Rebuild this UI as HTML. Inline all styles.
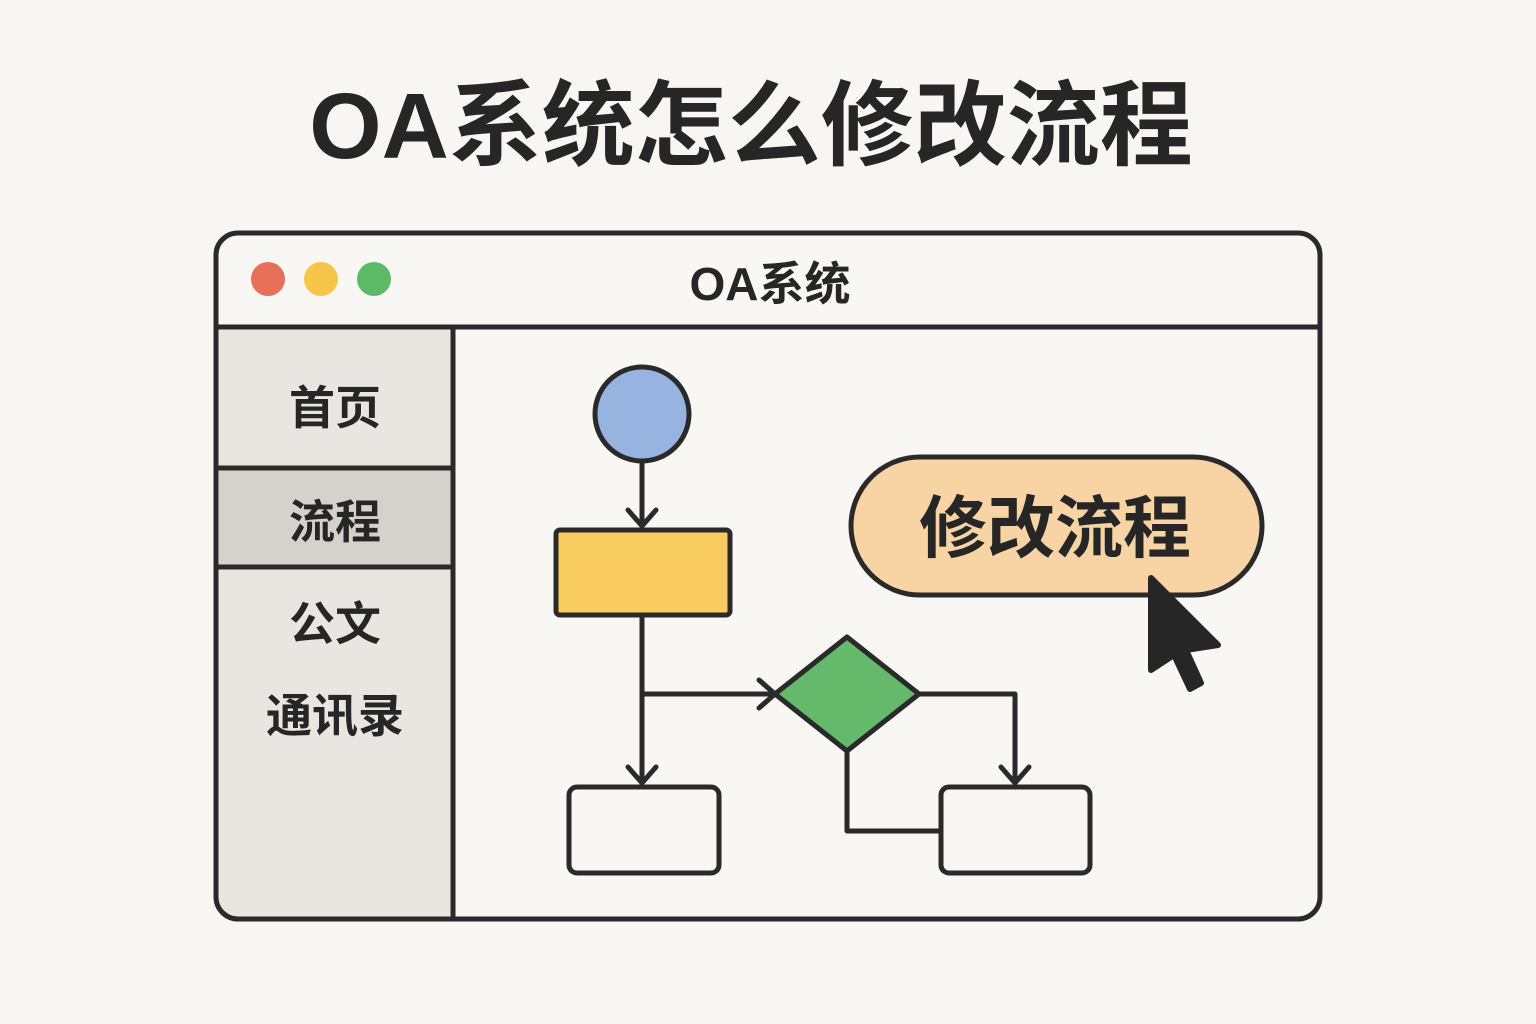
<!DOCTYPE html>
<html><head><meta charset="utf-8"><style>
html,body{margin:0;padding:0;background:#f7f6f2;}
svg{display:block;}
text{font-family:"Liberation Sans","Noto Sans CJK SC",sans-serif;font-weight:bold;fill:#262626;}
</style></head><body>
<svg width="1536" height="1024" viewBox="0 0 1536 1024" xmlns="http://www.w3.org/2000/svg">
<rect width="1536" height="1024" fill="#f7f6f2"/>
<text x="751" y="158" font-size="93" text-anchor="middle">OA系统怎么修改流程</text>
<rect x="216" y="233" width="1104" height="686" rx="22" fill="#f8f7f3"/>
<path d="M218,329 H452 V917 H238 Q218,917 218,897 Z" fill="#e8e6e0"/>
<rect x="219" y="470" width="233" height="95" fill="#d4d3cb"/>
<line x1="218" y1="468" x2="452" y2="468" stroke="#2a2a2a" stroke-width="5"/>
<line x1="218" y1="567" x2="452" y2="567" stroke="#2a2a2a" stroke-width="5"/>
<line x1="218" y1="327" x2="1318" y2="327" stroke="#2a2a2a" stroke-width="5"/>
<line x1="453" y1="327" x2="453" y2="917" stroke="#2a2a2a" stroke-width="5"/>
<rect x="216" y="233" width="1104" height="686" rx="22" fill="none" stroke="#2a2a2a" stroke-width="5"/>
<circle cx="268" cy="279" r="17" fill="#e8705a"/>
<circle cx="321" cy="279" r="17" fill="#f5c64a"/>
<circle cx="374" cy="279" r="17" fill="#5cb966"/>
<text x="770" y="300" font-size="46" text-anchor="middle">OA系统</text>
<g font-size="46" text-anchor="middle">
<text x="335" y="424">首页</text>
<text x="335" y="538">流程</text>
<text x="335" y="640">公文</text>
<text x="335" y="732">通讯录</text>
</g>
<g stroke="#2a2a2a" stroke-width="5" fill="none" stroke-linejoin="round" stroke-linecap="round">
<line x1="642" y1="460" x2="642" y2="526"/>
<polyline points="628,510 642,526 656,510"/>
<line x1="642" y1="615" x2="642" y2="783"/>
<polyline points="628,767 642,783 656,767"/>
<line x1="642" y1="694" x2="775" y2="694"/>
<polyline points="759,680 775,694 759,708"/>
<polyline points="919,694 1015,694 1015,783"/>
<polyline points="1001,767 1015,783 1029,767"/>
<polyline points="847,751 847,831 941,831"/>
</g>
<circle cx="642" cy="414" r="47" fill="#97b3e0" stroke="#2a2a2a" stroke-width="5"/>
<rect x="556" y="530" width="174" height="85" rx="4" fill="#f9cc60" stroke="#2a2a2a" stroke-width="5"/>
<polygon points="775,694 847,637 919,694 847,751" fill="#65b96a" stroke="#2a2a2a" stroke-width="5" stroke-linejoin="round"/>
<rect x="569" y="787" width="150" height="86" rx="8" fill="#f8f7f3" stroke="#2a2a2a" stroke-width="5"/>
<rect x="941" y="787" width="149" height="86" rx="8" fill="#f8f7f3" stroke="#2a2a2a" stroke-width="5"/>
<rect x="851" y="457" width="411" height="138" rx="69" fill="#f8d3a4" stroke="#2a2a2a" stroke-width="5"/>
<text x="1055" y="552" font-size="68" text-anchor="middle">修改流程</text>
<polygon points="1151,578 1218,645 1186,650 1201,683 1190,689 1174,655 1151,670" fill="#262626" stroke="#262626" stroke-width="6" stroke-linejoin="round"/>
</svg>
</body></html>
